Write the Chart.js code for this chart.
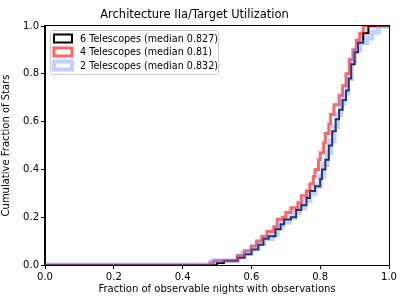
<!DOCTYPE html>
<html>
<head>
<meta charset="utf-8">
<script src="https://cdn.jsdelivr.net/npm/chart.js@4/dist/chart.umd.min.js"></script>
<style>
  html, body { margin: 0; padding: 0; background: #fff; }
  #wrap { width: 407px; height: 305px; }
</style>
</head>
<body>
<div id="wrap"><canvas id="myChart" width="407" height="305"></canvas></div>
<script>
// step edges (fraction of nights) and cumulative fraction of stars
const nightsSix = [0.50, 0.52, 0.56, 0.58, 0.60, 0.62, 0.635, 0.65, 0.67, 0.685, 0.695, 0.715, 0.73, 0.745, 0.76, 0.77, 0.785, 0.80, 0.805, 0.815, 0.825, 0.835, 0.845, 0.855, 0.865, 0.875, 0.883, 0.89, 0.90, 0.91, 0.925, 0.94]
const fracSix   = [0.008, 0.018, 0.03, 0.045, 0.065, 0.085, 0.11, 0.12, 0.15, 0.17, 0.19, 0.20, 0.23, 0.25, 0.28, 0.31, 0.33, 0.36, 0.40, 0.44, 0.50, 0.56, 0.61, 0.65, 0.69, 0.73, 0.78, 0.84, 0.89, 0.93, 0.97, 1.0]

const nightsFour = [0.48, 0.49, 0.56, 0.58, 0.60, 0.615, 0.63, 0.645, 0.665, 0.675, 0.69, 0.70, 0.715, 0.735, 0.745, 0.76, 0.77, 0.78, 0.785, 0.795, 0.80, 0.81, 0.815, 0.825, 0.83, 0.84, 0.855, 0.865, 0.875, 0.885, 0.895, 0.905, 0.915, 0.925]
const fracFour   = [0.008, 0.018, 0.04, 0.06, 0.08, 0.10, 0.12, 0.14, 0.16, 0.19, 0.20, 0.22, 0.24, 0.26, 0.29, 0.31, 0.34, 0.37, 0.40, 0.44, 0.47, 0.51, 0.55, 0.59, 0.63, 0.67, 0.71, 0.75, 0.80, 0.86, 0.90, 0.94, 0.97, 1.0]

const nightsTwo = [0.48, 0.49, 0.56, 0.575, 0.60, 0.62, 0.635, 0.66, 0.675, 0.69, 0.71, 0.725, 0.74, 0.755, 0.77, 0.785, 0.80, 0.81, 0.82, 0.83, 0.84, 0.85, 0.86, 0.87, 0.88, 0.89, 0.90, 0.915, 0.935, 0.95, 0.97]
const fracTwo   = [0.01, 0.018, 0.035, 0.05, 0.07, 0.09, 0.11, 0.13, 0.16, 0.18, 0.20, 0.22, 0.24, 0.27, 0.30, 0.33, 0.37, 0.42, 0.47, 0.52, 0.58, 0.63, 0.68, 0.72, 0.78, 0.85, 0.90, 0.93, 0.95, 0.975, 1.0]

const labels = ['6 Telescopes (median 0.827)', '4 Telescopes (median 0.81)', '2 Telescopes (median 0.832)']
const tickValues = [0, 0.2, 0.4, 0.6, 0.8, 1.0]

function steps(xs, ys) {
  const pts = [{x: 0, y: 0}]
  xs.forEach(function(x, i) { pts.push({x: x, y: ys[i]}) })
  pts.push({x: 1, y: 1})
  return pts
}

const FONT = 'DejaVu Sans'

// legend drawn inside the axes, upper left, like matplotlib
const innerLegend = {
  id: 'innerLegend',
  afterDraw(chart) {
    const ctx = chart.ctx
    const a = chart.chartArea
    const bx = a.left + 5, by = a.top + 4, bw = 168, bh = 44
    ctx.save()
    ctx.fillStyle = 'rgba(255,255,255,0.8)'
    ctx.strokeStyle = '#cccccc'
    ctx.lineWidth = 1
    ctx.beginPath()
    ctx.roundRect(bx + 0.5, by + 0.5, bw, bh, 2)
    ctx.fill()
    ctx.stroke()
    ctx.font = '9.6px "' + FONT + '"'
    ctx.textBaseline = 'middle'
    chart.data.datasets.forEach(function(ds, i) {
      const cy = by + 8.5 + i * 13.5
      ctx.fillStyle = '#fff'
      ctx.fillRect(bx + 4, cy - 4, 18, 8)
      ctx.strokeStyle = ds.borderColor
      ctx.lineWidth = Math.min(ds.borderWidth, 4)
      ctx.strokeRect(bx + 4, cy - 4, 18, 8)
      ctx.fillStyle = '#000'
      ctx.fillText(ds.label, bx + 30, cy + 0.5)
    })
    // frame
    ctx.strokeStyle = '#000'
    ctx.lineWidth = 1
    ctx.strokeRect(Math.round(a.left) - 0.5, Math.round(a.top) - 0.5, Math.round(a.right - a.left) + 1, Math.round(a.bottom - a.top) + 1)
    ctx.restore()
  }
}

const ctx = document.getElementById('myChart')
const myChart = new Chart(ctx, {
  type: 'line',
  data: {
    datasets: [{
      label: labels[0],
      data: steps(nightsSix, fracSix),
      borderColor: '#000000',
      borderWidth: 2,
      order: 3
    }, {
      label: labels[1],
      data: steps(nightsFour, fracFour),
      borderColor: 'rgba(255,0,0,0.6)',
      borderWidth: 3,
      order: 2
    }, {
      label: labels[2],
      data: steps(nightsTwo, fracTwo),
      borderColor: 'rgba(100,140,255,0.4)',
      borderWidth: 5,
      order: 1
    }]
  },
  options: {
    responsive: false,
    animation: false,
    devicePixelRatio: 1,
    layout: { padding: { left: 0, right: 18, top: 0, bottom: 10 } },
    elements: {
      point: { radius: 0 },
      line: { stepped: true, fill: false, tension: 0 }
    },
    plugins: {
      legend: { display: false },
      tooltip: { enabled: false },
      title: {
        display: true,
        text: 'Architecture IIa/Target Utilization',
        color: '#000',
        font: { family: FONT, size: 11.5, weight: 'normal', lineHeight: 1.2 },
        padding: { top: 8, bottom: 4.2 }
      }
    },
    scales: {
      x: {
        type: 'linear',
        min: 0,
        max: 1,
        afterFit: function(s) { s.height = 30 },
        afterBuildTicks: function(s) { s.ticks = tickValues.map(function(v) { return {value: v} }) },
        grid: { drawOnChartArea: false, drawTicks: true, tickLength: 4, color: '#000' },
        border: { display: true, color: '#000' },
        ticks: {
          color: '#000',
          padding: 2,
          maxRotation: 0,
          font: { family: FONT, size: 10 },
          callback: function(v) { return v.toFixed(1) }
        },
        title: {
          display: true,
          text: 'Fraction of observable nights with observations',
          color: '#000',
          font: { family: FONT, size: 10 },
          padding: { top: 2, bottom: 0 }
        }
      },
      y: {
        min: 0,
        max: 1,
        afterFit: function(s) { s.width = 45 },
        afterBuildTicks: function(s) { s.ticks = tickValues.map(function(v) { return {value: v} }) },
        grid: { drawOnChartArea: false, drawTicks: true, tickLength: 4, color: '#000' },
        border: { display: true, color: '#000' },
        ticks: {
          color: '#000',
          padding: 2,
          font: { family: FONT, size: 10 },
          callback: function(v) { return v.toFixed(1) }
        },
        title: {
          display: true,
          text: 'Cumulative Fraction of Stars',
          color: '#000',
          font: { family: FONT, size: 10 },
          padding: { top: 0, bottom: 2 }
        }
      }
    }
  },
  plugins: [innerLegend]
})
</script>
</body>
</html>
